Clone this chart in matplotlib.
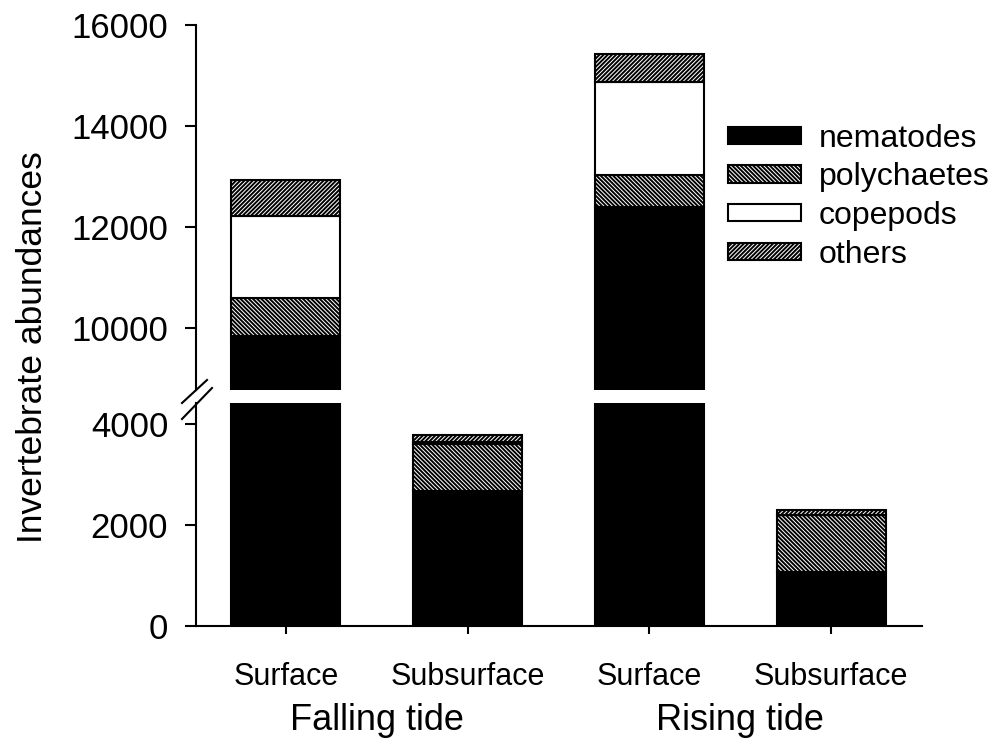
import matplotlib.pyplot as plt
import numpy as np
from matplotlib.lines import Line2D

plt.rcParams['font.family'] = ['Liberation Sans', 'DejaVu Sans']
plt.rcParams['hatch.linewidth'] = 1.4

# 数据：四个站位，四类底栖动物（堆叠）
sites = ['Surface', 'Subsurface', 'Surface', 'Subsurface']
tides = ['Falling tide', 'Rising tide']
nematodes = [9840, 2670, 12400, 1070]
polychaetes = [750, 930, 630, 1120]
copepods = [1630, 40, 1850, 0]
others = [700, 130, 540, 100]

groups = [
    ('nematodes', nematodes, 'black', ''),
    ('polychaetes', polychaetes, 'white', '\\' * 8),
    ('copepods', copepods, 'white', ''),
    ('others', others, 'white', '/' * 8),
]

W, H = 994, 748
fig = plt.figure(figsize=(W / 100, H / 100), dpi=100)

def fx(px):
    return px / W

def fy(py):
    return 1 - py / H

left, right = fx(196), fx(922)
ax_top = fig.add_axes([left, fy(390), right - left, fy(25) - fy(390)])
ax_bot = fig.add_axes([left, fy(625.7), right - left, fy(403) - fy(625.7)])

x = np.arange(len(sites))
for ax in (ax_top, ax_bot):
    bottom = np.zeros(len(sites))
    for name, vals, fc, hatch in groups:
        ax.bar(x, vals, 0.6, bottom=bottom, color=fc, edgecolor='black',
               hatch=hatch, linewidth=1.5, label=name)
        bottom += np.array(vals)
    ax.set_xlim(-0.495, 3.5)
    for s in ('top', 'right'):
        ax.spines[s].set_visible(False)
    ax.spines['left'].set_linewidth(1.5)
    ax.spines['bottom'].set_linewidth(1.5)
    ax.tick_params(axis='y', labelsize=25, length=8, width=1.5,
                   direction='out', pad=12)

ax_top.set_ylim(8770, 16000)
ax_top.set_yticks([10000, 12000, 14000, 16000])
ax_top.spines['bottom'].set_visible(False)
ax_top.set_xticks([])

ax_bot.set_ylim(0, 4410)
ax_bot.set_yticks([0, 2000, 4000])
ax_bot.set_xticks(x)
ax_bot.set_xticklabels(sites)
ax_bot.tick_params(axis='x', labelsize=22, length=6, width=1.5, pad=20)

# 潮汐分组标签（放在图坐标的 y=720 像素处）
for i, t in enumerate(tides):
    xd = ax_bot.transData.transform((2 * i + 0.5, 0))[0] / W
    fig.text(xd, fy(720), t, ha='center', va='center', fontsize=26)

fig.text(fx(33), fy(347), 'Invertebrate abundances', rotation=90,
         ha='center', va='center', fontsize=25.5)

# 断轴符号
for (x0, y0, x1, y1) in [(182, 403, 207, 380), (182, 419, 212, 388)]:
    fig.add_artist(Line2D([fx(x0), fx(x1)], [fy(y0), fy(y1)],
                          transform=fig.transFigure, color='black', lw=1.5))

ax_top.legend(loc='upper left', bbox_to_anchor=(fx(715), fy(111)),
              bbox_transform=fig.transFigure, frameon=False, fontsize=23,
              handlelength=2.3, handleheight=0.45, labelspacing=0.27,
              handletextpad=0.55, borderaxespad=0)

fig.savefig('out.png', dpi=100)
